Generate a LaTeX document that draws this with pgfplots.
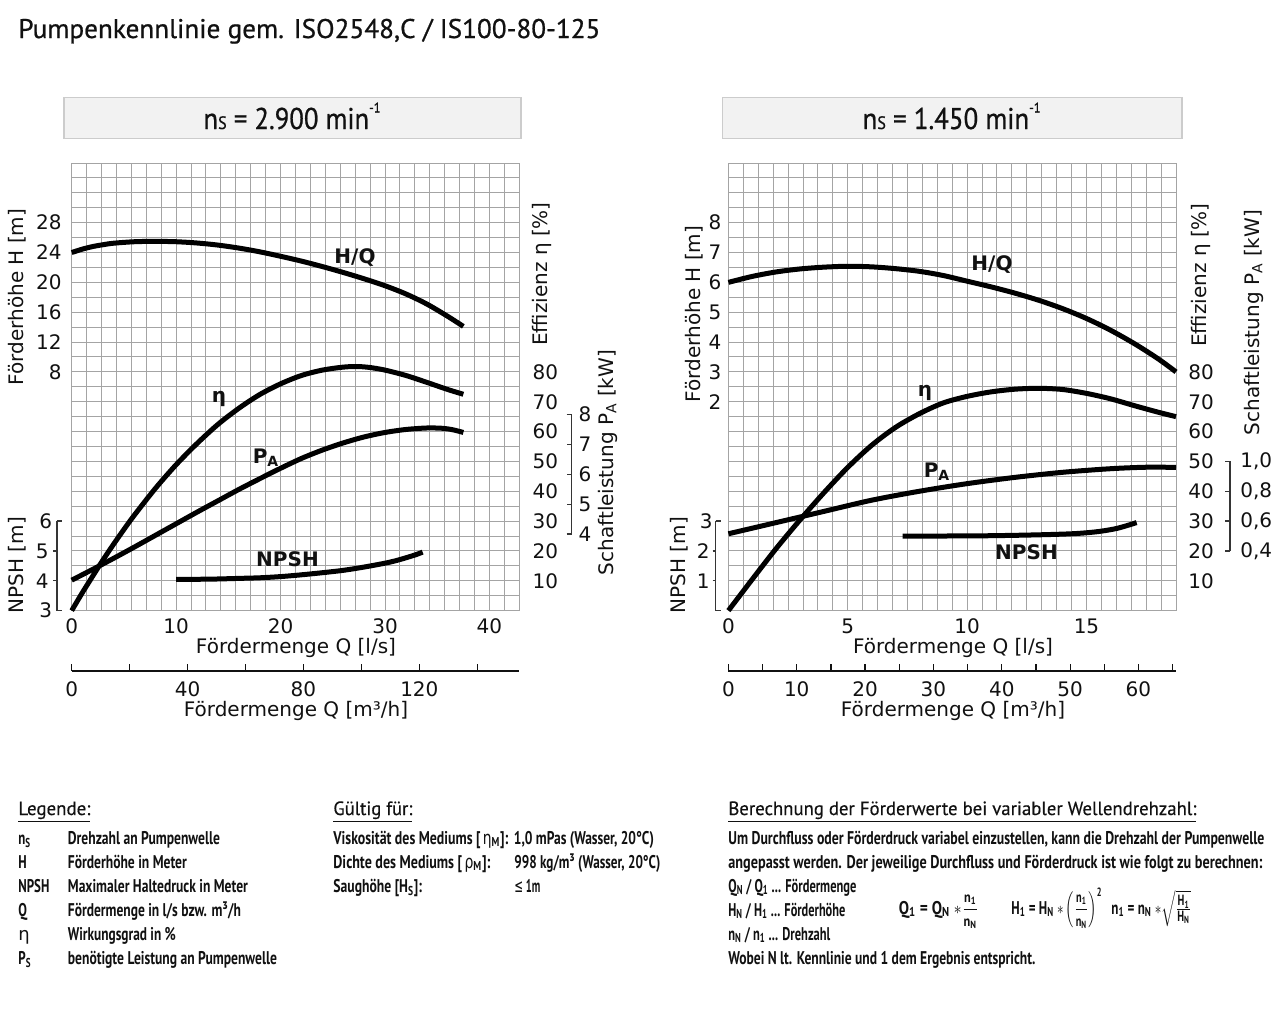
\documentclass[border=0pt]{standalone}
\usepackage{pgfplots}
\pgfplotsset{compat=1.18}
\usepackage{fontspec}
\usepackage{graphicx}
\setmainfont{DejaVu Sans}
\newfontfamily\din{PT Sans}
\newfontfamily\dinm[FakeBold=0.7]{PT Sans}
\newfontfamily\dinh[FakeBold=0.35]{PT Sans}
\newfontfamily\dvs{DejaVu Sans}
\definecolor{gridc}{HTML}{A4A4A4}
\definecolor{boxfill}{HTML}{F2F2F2}
\definecolor{boxdraw}{HTML}{CCCCCC}
\definecolor{txt}{HTML}{111111}
\newcommand{\W}[2]{\resizebox{#1}{\height}{#2}}
\newcommand{\lf}{\din\bfseries\fontsize{9.2}{10}\selectfont}
\newcommand{\fracf}{\din\bfseries\fontsize{7.4}{8}\selectfont}
\newcommand{\hf}{\dinh\fontsize{9.6}{11}\selectfont}
\newcommand{\C}[1]{\scalebox{0.7}[1]{#1}}
\newcommand{\fr}[2]{{\displaystyle\frac{\hbox{\fracf #1}}{\hbox{\fracf #2}}}}
\newcommand{\frt}[2]{{\frac{\hbox{\fracf #1}}{\hbox{\fracf #2}}}}

\pgfplotstableread{
q h
0 24.0
1 24.45
2 24.8
3 25.05
4 25.25
6 25.45
8 25.5
10 25.45
12 25.28
14 25.0
16 24.6
18 24.1
20 23.5
22 22.85
24 22.12
26 21.33
28 20.48
30 19.55
32 18.45
34 17.1
36 15.45
37.5 14.1
}\LHQ
\pgfplotstableread{
q e
0 0
1 5.9
2 11.5
3 17
4 22.2
5 27.2
6 32
8 40.9
10 48.9
12 56
14 62.4
16 67.8
18 72.4
20 76
22 78.8
24 80.6
26 81.6
27.3 81.8
28.5 81.5
30 80.6
32 78.8
34 76.5
36 74.1
37.5 72.5
}\LETA
\pgfplotstableread{
q p
0 2.52
2 2.88
4 3.25
6 3.63
8 4.02
10 4.41
12 4.8
14 5.18
16 5.56
18 5.92
20 6.27
22 6.6
24 6.88
26 7.12
28 7.32
30 7.47
32 7.57
34 7.62
35.5 7.61
36.5 7.56
37.5 7.47
}\LPA
\pgfplotstableread{
q n
10 4.05
12 4.05
14 4.06
16 4.08
18 4.1
20 4.14
22 4.2
24 4.27
26 4.35
28 4.46
30 4.59
31 4.67
32 4.77
33 4.88
33.6 4.96
}\LNPSH
\pgfplotstableread{
q h
0 6.0
1 6.2
2 6.35
3 6.45
4 6.51
5 6.54
6 6.52
7 6.46
8 6.37
9 6.23
10 6.04
11 5.85
12 5.64
13 5.40
14 5.12
15 4.79
16 4.40
17 3.95
18 3.44
18.75 3.0
}\RHQ
\pgfplotstableread{
q e
0 0
1 10.5
2 20.8
3 30.4
4 39.5
5 48
6 55.4
7 61.4
8 66
9 69.6
10 71.8
11 73.3
12 74.2
13 74.5
14 74.1
15 72.8
16 71
17 68.7
18 66.5
18.75 65.0
}\RETA
\pgfplotstableread{
q p
0 0.515
2 0.59
4 0.665
6 0.74
8 0.8
10 0.851
12 0.893
14 0.927
16 0.951
17.5 0.961
18.75 0.96
}\RPA
\pgfplotstableread{
q n
7.3 2.5
9 2.5
11 2.51
13 2.54
14.5 2.58
15.5 2.65
16.3 2.76
17.1 2.95
}\RNPSH

\pgfplotsset{
  base/.style={scale only axis, width=223.8pt, height=223.8pt, anchor=south west,
    xmin=0, clip=false, axis line style={draw=none}, tick style={draw=none},
    major tick length=0pt,
    tick label style={font=\fontsize{10}{12}\selectfont, inner sep=0pt, text=txt},
    /pgf/number format/assume math mode=true},
  hid/.style={base, hide axis},
  curve/.style={black, line width=2.5pt, line join=round},
  gridax/.style={scale only axis, width=223.8pt, height=223.8pt, anchor=south west,
    xmin=0,xmax=30,ymin=0,ymax=30, xtick={0,...,30}, ytick={0,...,30},
    xticklabel=\empty, yticklabel=\empty, grid=major, axis line style={draw=none},
    major tick length=0pt, tick style={draw=none},
    major grid style={gridc, line width=0.5pt}},
  scaleax/.style={scale only axis, width=2.5pt, anchor=south west,
    xmin=0,xmax=1, xtick=\empty, axis x line=box,
    tick style={txt!85, line width=0.6pt},
    tick label style={font=\fontsize{10}{12}\selectfont, inner sep=0pt, text=txt},
    /pgf/number format/assume math mode=true},
  scaleline/.style={axis line style={txt!85, line width=0.6pt, -},
    y axis line style={-}, x axis line style={-}},
  mqax/.style={scale only axis, width=223.8pt, height=10pt, anchor=south west,
    xmin=0, ymin=0, ymax=1, ytick=\empty, axis x line=bottom, axis y line=none,
    axis line style={txt, line width=0.6pt, -}, tick style={txt, line width=0.6pt},
    tick align=inside, major tick length=3.3pt,
    tick label style={font=\fontsize{10}{12}\selectfont, inner sep=0pt, text=txt},
    xticklabel style={anchor=north, yshift=-5.3pt},
    /pgf/number format/assume math mode=true},
}

\begin{document}
\begin{tikzpicture}
% ---------------- LEFT PANEL ----------------
\begin{axis}[gridax, at={(35.85pt,-305.3pt)}]
\end{axis}
\begin{axis}[base, at={(35.85pt,-305.3pt)}, xmax=42.857, ymin=0, ymax=150,
  xtick={0,10,20,30,40}, ytick={10,20,...,80}, yticklabel pos=right,
  xticklabel style={anchor=north, yshift=-4pt},
  yticklabel style={anchor=west, xshift=6.5pt}]
\addplot[curve, smooth] table[x=q,y=e] {\LETA};
\end{axis}
\begin{axis}[base, at={(35.85pt,-305.3pt)}, xmax=42.857, ymin=-24, ymax=36,
  xtick=\empty, ytick={8,12,...,28},
  yticklabel style={anchor=east, xshift=-4.85pt}]
\addplot[curve, smooth] table[x=q,y=h] {\LHQ};
\end{axis}
\begin{axis}[hid, at={(35.85pt,-305.3pt)}, xmax=42.857, ymin=3, ymax=18]
\addplot[curve, smooth] table[x=q,y=n] {\LNPSH};
\end{axis}
\begin{axis}[hid, at={(35.85pt,-305.3pt)}, xmax=42.857, ymin=1.5, ymax=16.5]
\addplot[curve, smooth] table[x=q,y=p] {\LPA};
\end{axis}
% NPSH scale
\begin{axis}[scaleax, at={(28.5pt,-305.3pt)}, height=44.76pt, ymin=3, ymax=6,
  axis y line=left, ytick={4,5}, extra y ticks={3,6},
  extra y tick style={major tick length=0pt},
  tick align=outside, major tick length=1.75pt,
  yticklabel style={anchor=east, xshift=-2.25pt}, scaleline]
\end{axis}
% PA scale
\begin{axis}[scaleax, at={(283.35pt,-267.0pt)}, height=59.68pt, ymin=4, ymax=8,
  axis y line=right, ytick={4,5,6,7,8}, tick align=inside, major tick length=2.5pt,
  yticklabel style={anchor=west, xshift=3.3pt}, scaleline]
\end{axis}
% m3/h axis
\begin{axis}[mqax, at={(35.85pt,-335.5pt)}, xmax=154.5,
  xtick={0,20,...,140}, xticklabels={0,,40,,80,,120,}]
\end{axis}

% ---------------- RIGHT PANEL ----------------
\begin{axis}[gridax, at={(364.2pt,-305.3pt)}]
\end{axis}
\begin{axis}[base, at={(364.2pt,-305.3pt)}, xmax=18.75, ymin=0, ymax=150,
  xtick={0,5,10,15}, ytick={10,20,...,80}, yticklabel pos=right,
  xticklabel style={anchor=north, yshift=-4pt},
  yticklabel style={anchor=west, xshift=6pt}]
\addplot[curve, smooth] table[x=q,y=e] {\RETA};
\end{axis}
\begin{axis}[base, at={(364.2pt,-305.3pt)}, xmax=18.75, ymin=-5, ymax=10,
  xtick=\empty, ytick={2,...,8},
  yticklabel style={anchor=east, xshift=-3.35pt}]
\addplot[curve, smooth] table[x=q,y=h] {\RHQ};
\end{axis}
\begin{axis}[hid, at={(364.2pt,-305.3pt)}, xmax=18.75, ymin=0, ymax=15]
\addplot[curve, smooth] table[x=q,y=n] {\RNPSH};
\end{axis}
\begin{axis}[hid, at={(364.2pt,-305.3pt)}, xmax=18.75, ymin=0, ymax=3]
\addplot[curve, smooth] table[x=q,y=p] {\RPA};
\end{axis}
\begin{axis}[scaleax, at={(357.8pt,-305.3pt)}, height=44.76pt, ymin=0, ymax=3,
  axis y line=left, ytick={1,2}, extra y ticks={3},
  extra y tick style={major tick length=0pt},
  tick align=outside, major tick length=1.5pt,
  yticklabel style={anchor=east, xshift=-1.3pt}, scaleline]
\end{axis}
\begin{axis}[scaleax, at={(612.5pt,-275.46pt)}, height=44.76pt, ymin=0.4, ymax=1.0,
  axis y line=right, ytick={0.4,0.6,0.8,1.0},
  yticklabels={{0,4},{0,6},{0,8},{1,0}}, tick align=inside, major tick length=2.5pt,
  yticklabel style={anchor=west, xshift=5pt}, scaleline]
\end{axis}
\begin{axis}[mqax, at={(364.2pt,-335.5pt)}, xmax=65.5,
  xtick={0,5,...,65}, xticklabels={0,,10,,20,,30,,40,,50,,60,}]
\end{axis}

% ---------------- TEXT ----------------
\begin{scope}[x=0.5pt,y=-0.5pt, text=txt]
\path[use as bounding box] (0,0) rectangle (1280,1009);
% title
\node[anchor=base west, inner sep=0pt] at (18,38)
  {\dinm\fontsize{13.5}{15}\selectfont\W{291pt}{Pumpenkennlinie gem. ISO2548,C / IS100-80-125}};
% boxes
\draw[boxdraw, fill=boxfill, line width=0.6pt] (64,97.5) rectangle (521,138.5);
\draw[boxdraw, fill=boxfill, line width=0.6pt] (722.5,97.5) rectangle (1182,138.5);
\node[anchor=base, inner sep=0pt] at (292,129)
  {\dinm\fontsize{15}{17}\selectfont\W{88.5pt}{n{\fontsize{9}{10}\selectfont S} = 2.900 min\raisebox{1.1ex}{\fontsize{7}{8}\selectfont -1}}};
\node[anchor=base, inner sep=0pt] at (951.6,129)
  {\dinm\fontsize{15}{17}\selectfont\W{89pt}{n{\fontsize{9}{10}\selectfont S} = 1.450 min\raisebox{1.1ex}{\fontsize{7}{8}\selectfont -1}}};
% axis labels
\begin{scope}[every node/.style={font=\fontsize{10}{12}\selectfont, inner sep=0pt}]
\node[rotate=90] at (17,297) {Förderhöhe H [m]};
\node[rotate=90] at (17,565) {NPSH [m]};
\node[rotate=90] at (542,274) {Effizienz η [\%]};
\node[rotate=90] at (607.5,462.5) {Schaftleistung P\textsubscript{A} [kW]};
\node[anchor=base] at (296,653.5) {Fördermenge Q [l/s]};
\node[anchor=base] at (296,716.5) {Fördermenge Q [m³/h]};
\node[rotate=90] at (694,314) {Förderhöhe H [m]};
\node[rotate=90] at (679,565) {NPSH [m]};
\node[rotate=90] at (1201,275) {Effizienz η [\%]};
\node[rotate=90] at (1253.5,322.5) {Schaftleistung P\textsubscript{A} [kW]};
\node[anchor=base] at (953,653.5) {Fördermenge Q [l/s]};
\node[anchor=base] at (953,716.5) {Fördermenge Q [m³/h]};
\end{scope}
% curve labels
\begin{scope}[every node/.style={font=\bfseries\fontsize{10}{12}\selectfont, inner sep=0pt}]
\node at (355,258) {H/Q};
\node at (219,399) {η};
\node at (266,458) {P\textsubscript{A}};
\node at (287.5,559) {NPSH};
\node at (992,265) {H/Q};
\node at (925,393) {η};
\node at (937,472) {P\textsubscript{A}};
\node at (1026.5,552.5) {NPSH};
\end{scope}
% legend
\begin{scope}[every node/.style={anchor=base west, inner sep=0pt}]
\node at (18,815) {\hf\W{36pt}{\underline{Legende:}}};
\node at (18,844) {\lf\C{n\textsubscript{S}}};
\node at (18,868) {\lf\C{H}};
\node at (18,892) {\lf\C{NPSH}};
\node at (18,916) {\lf\C{Q}};
\node at (18,940) {\dvs\fontsize{9}{10}\selectfont η};
\node at (18,964) {\lf\C{P\textsubscript{S}}};
\node at (67.5,844) {\lf\W{76pt}{Drehzahl an Pumpenwelle}};
\node at (67.5,868) {\lf\W{59.5pt}{Förderhöhe in Meter}};
\node at (67.5,892) {\lf\W{90pt}{Maximaler Haltedruck in Meter}};
\node at (67.5,916) {\lf\W{86.5pt}{Fördermenge in l/s bzw. m³/h}};
\node at (67.5,940) {\lf\W{54pt}{Wirkungsgrad in \%}};
\node at (67.5,964) {\lf\W{104.5pt}{benötigte Leistung an Pumpenwelle}};
\node at (333,815) {\hf\W{39.5pt}{\underline{Gültig für:}}};
\node at (333,844) {\lf\W{87.5pt}{Viskosität des Mediums [\,{\dvs\mdseries η}\textsubscript{M}]:}};
\node at (513.5,844) {\lf\W{70pt}{1,0 mPas (Wasser, 20°C)}};
\node at (333,868) {\lf\W{78.5pt}{Dichte des Mediums [\,{\dvs\mdseries ρ}\textsubscript{M}]:}};
\node at (514,868) {\lf\W{73pt}{998 kg/m³ (Wasser, 20°C)}};
\node at (333,892) {\lf\W{44.3pt}{Saughöhe [H\textsubscript{S}]:}};
\node at (514,892) {\lf\W{13pt}{{\dvs\mdseries ≤} 1m}};
\node at (728,815) {\hf\W{234pt}{\underline{Berechnung der Förderwerte bei variabler Wellendrehzahl:}}};
\node at (728,844) {\lf\W{268pt}{Um Durchfluss oder Förderdruck variabel einzustellen, kann die Drehzahl der Pumpenwelle}};
\node at (728,868) {\lf\W{267pt}{angepasst werden. Der jeweilige Durchfluss und Förderdruck ist wie folgt zu berechnen:}};
\node at (728,892) {\lf\W{64pt}{Q\textsubscript{N} / Q\textsubscript{1} ... Fördermenge}};
\node at (728,916) {\lf\W{58.5pt}{H\textsubscript{N} / H\textsubscript{1} ... Förderhöhe}};
\node at (728,940) {\lf\W{51pt}{n\textsubscript{N} / n\textsubscript{1} ... Drehzahl}};
\node at (728,964) {\lf\W{153.5pt}{Wobei N lt. Kennlinie und 1 dem Ergebnis entspricht.}};
\node at (898.5,914) {\lf\W{40pt}{Q\textsubscript{1} = Q\textsubscript{N} $\ast\fr{n\textsubscript{1}}{n\textsubscript{N}}$}};
\node at (1011,914) {\lf\W{45.5pt}{H\textsubscript{1} = H\textsubscript{N} $\ast\left(\fr{n\textsubscript{1}}{n\textsubscript{N}}\right)^{\hbox{\lf\fontsize{6}{7}\selectfont 2}}$}};
\node at (1111,914) {\lf\W{40pt}{n\textsubscript{1} = n\textsubscript{N} $\ast\sqrt{\frt{H\textsubscript{1}}{H\textsubscript{N}}}$}};
\end{scope}
\end{scope}
\end{tikzpicture}
\end{document}
